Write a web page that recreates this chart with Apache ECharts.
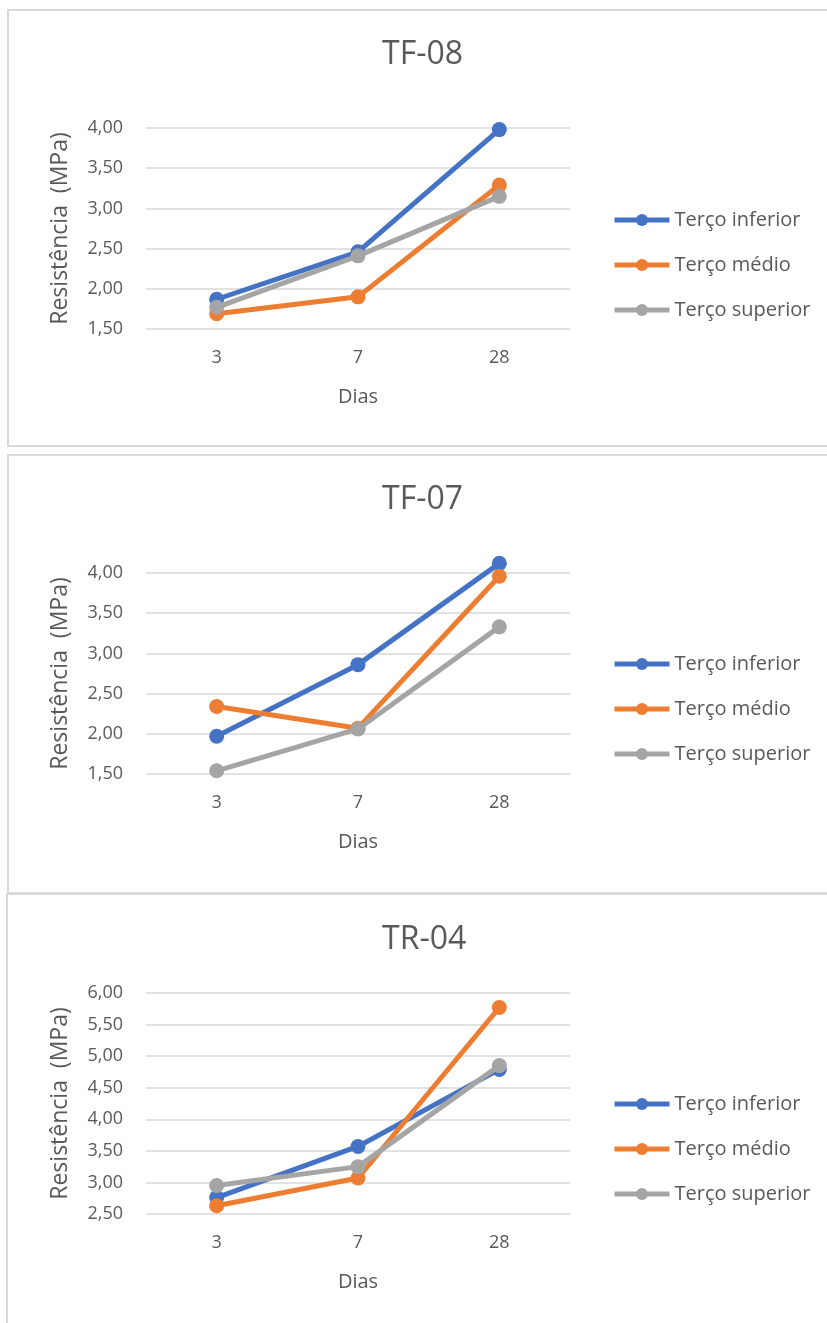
<!DOCTYPE html>
<html>
<head>
<meta charset="utf-8">
<script src="https://cdn.jsdelivr.net/npm/echarts@6/dist/echarts.min.js"></script>
<style>
html,body{margin:0;padding:0;background:#fff;overflow:hidden;}
#c{width:827px;height:1323px;}
</style>
</head>
<body>
<div id="c"></div>
<script>
// ---- data ----
const categories = ['3', '7', '28'];
const seriesNames = ['Terço inferior', 'Terço médio', 'Terço superior'];
const chartTitles = ['TF-08', 'TF-07', 'TR-04'];

const tf08Inferior = [1.87, 2.46, 3.98];
const tf08Medio    = [1.69, 1.90, 3.29];
const tf08Superior = [1.77, 2.41, 3.15];

const tf07Inferior = [1.97, 2.86, 4.12];
const tf07Medio    = [2.34, 2.07, 3.96];
const tf07Superior = [1.54, 2.06, 3.33];

const tr04Inferior = [2.76, 3.57, 4.79];
const tr04Medio    = [2.63, 3.07, 5.77];
const tr04Superior = [2.95, 3.25, 4.85];

const yRanges = [[1.5, 4.0], [1.5, 4.0], [2.5, 6.0]];
const yInterval = 0.5;
const xAxisName = 'Dias';
const yAxisName = 'Resistência  (MPa)';

// ---- layout / style ----
const colors = ['#4472C4', '#ED7D31', '#A5A5A5'];
const font = "'Open Sans', 'Noto Sans', sans-serif";
const txt = '#595959';
const gridBoxes = [
  {top: 128, height: 201},
  {top: 573, height: 201},
  {top: 993, height: 221}
];
const legendTops = [210, 654, 1094];
const titleTops = [39, 484, 924];
const panels = [
  {x: 8, y: 10, h: 436},
  {x: 8, y: 455, h: 438},
  {x: 7, y: 894, h: 440}
];
const allData = [
  [tf08Inferior, tf08Medio, tf08Superior],
  [tf07Inferior, tf07Medio, tf07Superior],
  [tr04Inferior, tr04Medio, tr04Superior]
];

const grids = [], xAxes = [], yAxes = [], series = [], titles = [], legends = [];
for (let k = 0; k < 3; k++) {
  grids.push({left: 146, width: 424, top: gridBoxes[k].top, height: gridBoxes[k].height});
  xAxes.push({
    type: 'category', gridIndex: k, data: categories, boundaryGap: true,
    axisLine: {show: false}, axisTick: {show: false},
    axisLabel: {color: txt, fontSize: 18, fontFamily: font, margin: 20},
    name: xAxisName, nameLocation: 'middle', nameGap: 58,
    nameTextStyle: {color: txt, fontSize: 20, fontFamily: font}
  });
  yAxes.push({
    type: 'value', gridIndex: k, min: yRanges[k][0], max: yRanges[k][1], interval: yInterval,
    axisLine: {show: false}, axisTick: {show: false},
    splitLine: {lineStyle: {color: '#d9d9d9', width: 1.5}},
    axisLabel: {color: txt, fontSize: 18, fontFamily: font, margin: 23,
      formatter: v => v.toFixed(2).replace('.', ',')},
    name: yAxisName, nameLocation: 'middle', nameGap: 74, nameRotate: 90,
    nameTextStyle: {color: txt, fontSize: 23, fontFamily: font}
  });
  titles.push({
    text: chartTitles[k], left: 382, top: titleTops[k], padding: 0,
    textStyle: {color: txt, fontSize: 32, fontWeight: 'normal', fontFamily: font}
  });
  legends.push({
    orient: 'vertical', left: 612, top: legendTops[k], padding: 0,
    itemWidth: 55, itemHeight: 15, itemGap: 25, itemTextGap: 5,
    data: seriesNames, selectedMode: false,
    lineStyle: {width: 5},
    textStyle: {color: txt, fontSize: 20, fontFamily: font}
  });
  for (let s = 0; s < 3; s++) {
    series.push({
      type: 'line', name: seriesNames[s], xAxisIndex: k, yAxisIndex: k,
      data: allData[k][s], symbol: 'circle', symbolSize: 15,
      lineStyle: {color: colors[s], width: 5},
      itemStyle: {color: colors[s]},
      clip: false,
      z: 2 + s, animation: false
    });
  }
}

const graphics = panels.map(p => ({
  type: 'rect', shape: {x: p.x, y: p.y, width: 840, height: p.h},
  style: {fill: 'none', stroke: '#d9d9d9', lineWidth: 2}, silent: true, z: -1
}));

const chart = echarts.init(document.getElementById('c'), null, {renderer: 'canvas'});
chart.setOption({
  animation: false,
  color: colors,
  title: titles,
  legend: legends,
  grid: grids,
  xAxis: xAxes,
  yAxis: yAxes,
  series: series,
  graphic: graphics
});
</script>
</body>
</html>
